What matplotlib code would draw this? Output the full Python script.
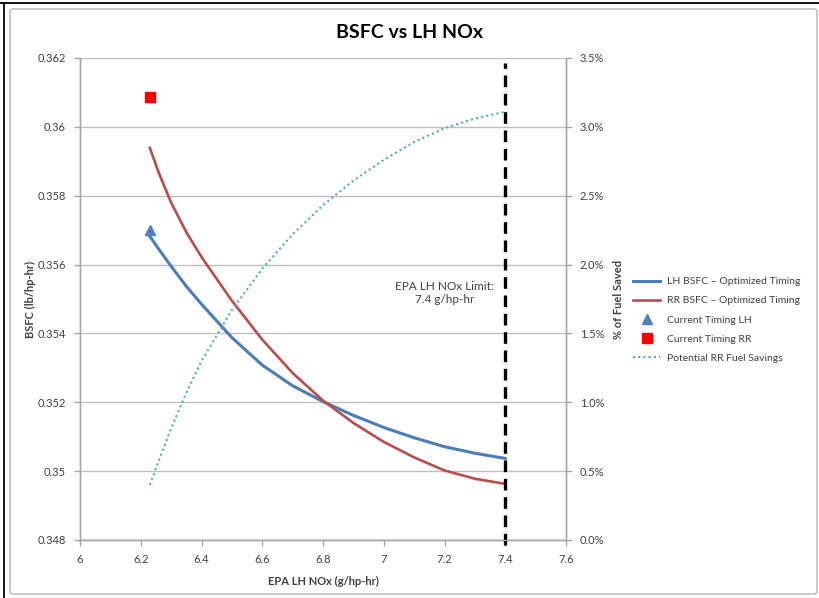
import matplotlib
matplotlib.use("Agg")
import matplotlib.pyplot as plt
from matplotlib.lines import Line2D
from matplotlib.patches import FancyBboxPatch
from matplotlib.ticker import FuncFormatter

plt.rcParams['font.family'] = ['Lato', 'DejaVu Sans']

# EPA LH NOx (g/hp-hr)
nox = [6.23, 6.26, 6.3, 6.35, 6.4, 6.5, 6.6, 6.7, 6.8, 6.9, 7.0, 7.1, 7.2, 7.3, 7.4]
# BSFC (lb/hp-hr) with optimized timing
lh_bsfc = [0.35682, 0.35644, 0.35595, 0.35537, 0.35485, 0.35388, 0.35308,
           0.35248, 0.35202, 0.35162, 0.35127, 0.35097, 0.35071, 0.35052,
           0.35037]
rr_bsfc = [0.35939, 0.35865, 0.35780, 0.35694, 0.35622, 0.35495, 0.35382,
           0.35285, 0.35205, 0.35140, 0.35085, 0.35040, 0.35002, 0.34978,
           0.34963]
# Potential RR fuel savings (%)
rr_savings = [0.40, 0.58, 0.81, 1.07, 1.30, 1.67, 1.97, 2.22, 2.43,
              2.61, 2.76, 2.89, 2.99, 3.06, 3.11]
# Current timing points
current_lh = (6.23, 0.3570)
current_rr = (6.23, 0.36087)
nox_limit = 7.4

x_ticks = [6, 6.2, 6.4, 6.6, 6.8, 7, 7.2, 7.4, 7.6]
y_ticks = [0.348, 0.35, 0.352, 0.354, 0.356, 0.358, 0.36, 0.362]
y2_ticks = [0, 0.5, 1.0, 1.5, 2.0, 2.5, 3.0, 3.5]

TXT = '#404040'
GRID = '#BFBFBF'
AX = '#A6A6A6'

fig = plt.figure(figsize=(8.2, 5.98), dpi=100)
fig.patch.set_facecolor('white')

# outer chart frame
frame = FancyBboxPatch((10 / 820, 1 - 594 / 598), 807 / 820, 585 / 598,
                       boxstyle='round,pad=0,rounding_size=0.004',
                       transform=fig.transFigure, facecolor='none',
                       edgecolor='#BFBFBF', linewidth=1.2, zorder=-5)
fig.add_artist(frame)
fig.add_artist(Line2D([0, 1], [1 - 3 / 598] * 2, transform=fig.transFigure,
                      color='black', linewidth=1.3))
fig.add_artist(Line2D([4 / 820] * 2, [0, 1 - 3 / 598], transform=fig.transFigure,
                      color='black', linewidth=1.3))

ax = fig.add_axes([80 / 820, 1 - 540 / 598, 486 / 820, 482 / 598])
ax2 = ax.twinx()

ax.set_xlim(6, 7.6)
ax.set_ylim(0.348, 0.362)
ax2.set_ylim(0, 3.5)

ax.set_yticks(y_ticks)
ax.set_xticks(x_ticks)
ax2.set_yticks(y2_ticks)
ax.yaxis.set_major_formatter(FuncFormatter(lambda v, p: f'{v:g}'))
ax.xaxis.set_major_formatter(FuncFormatter(lambda v, p: f'{v:g}'))
ax2.yaxis.set_major_formatter(FuncFormatter(lambda v, p: f'{v:.1f}%'))

ax.grid(axis='y', color=GRID, linewidth=1.0)
ax.set_axisbelow(True)

for a in (ax, ax2):
    for s in a.spines.values():
        s.set_color(AX)
        s.set_linewidth(1.0)
    a.spines['top'].set_visible(False)
    a.tick_params(colors=AX, labelcolor=TXT, labelsize=8, length=4, width=1)
ax.tick_params(axis='x', pad=6)
ax.tick_params(axis='y', pad=6)
ax2.tick_params(axis='y', pad=6)

# series
l1, = ax.plot(nox, lh_bsfc, color='#4A7EBB', linewidth=2.2,
              label='LH BSFC \u2013 Optimized Timing', zorder=4,
              solid_joinstyle='round')
l2, = ax.plot(nox, rr_bsfc, color='#BE4B48', linewidth=1.9,
              label='RR BSFC \u2013 Optimized Timing', zorder=4,
              solid_joinstyle='round')
m1, = ax.plot([current_lh[0]], [current_lh[1]], linestyle='none', marker='^',
              markersize=7, color='#4F81BD', label='Current Timing LH', zorder=5)
m2, = ax.plot([current_rr[0]], [current_rr[1]], linestyle='none', marker='s',
              markersize=7, color='#FF0000', label='Current Timing RR', zorder=5)
l3, = ax2.plot(nox, rr_savings, color='#4BACC6', linewidth=1.5,
               linestyle=(0, (1, 1.5)), label='Potential RR Fuel Savings', zorder=4)

# NOx limit
ax.axvline(nox_limit, color='black', linewidth=2.4, linestyle=(0, (3.5, 2)),
           ymin=-0.01, ymax=0.99, clip_on=False, zorder=6)
ax.text(7.2, 0.35517, 'EPA LH NOx Limit:\n7.4 g/hp-hr', ha='center', va='center',
        fontsize=8.5, color=TXT, linespacing=1.3)

# labels
fig.text(410 / 820, 1 - 32 / 598, 'BSFC vs LH NOx', ha='center', va='center',
         fontsize=14, fontweight='bold', color='black')
ax.set_xlabel('EPA LH NOx (g/hp-hr)', fontsize=8, fontweight='bold', color=TXT)
ax.set_ylabel('BSFC (lb/hp-hr)', fontsize=8, fontweight='bold', color=TXT)
ax2.set_ylabel('% of Fuel Saved', fontsize=8, fontweight='bold', color=TXT,
               rotation=90)
ax.xaxis.set_label_coords(0.5, (540 - 576) / 482)
ax.yaxis.set_label_coords((36 - 80) / 486, 0.5)
ax2.yaxis.set_label_coords((613 - 80) / 486, 0.5)

leg = fig.legend(handles=[l1, l2, m1, m2, l3], loc='center left',
                 bbox_to_anchor=(633 / 820, 1 - 320 / 598), frameon=False,
                 fontsize=7.5, labelcolor=TXT, handlelength=2.6, handletextpad=0.7,
                 labelspacing=0.95, borderpad=0, borderaxespad=0)

fig.savefig('out.png', dpi=100, facecolor='white')
